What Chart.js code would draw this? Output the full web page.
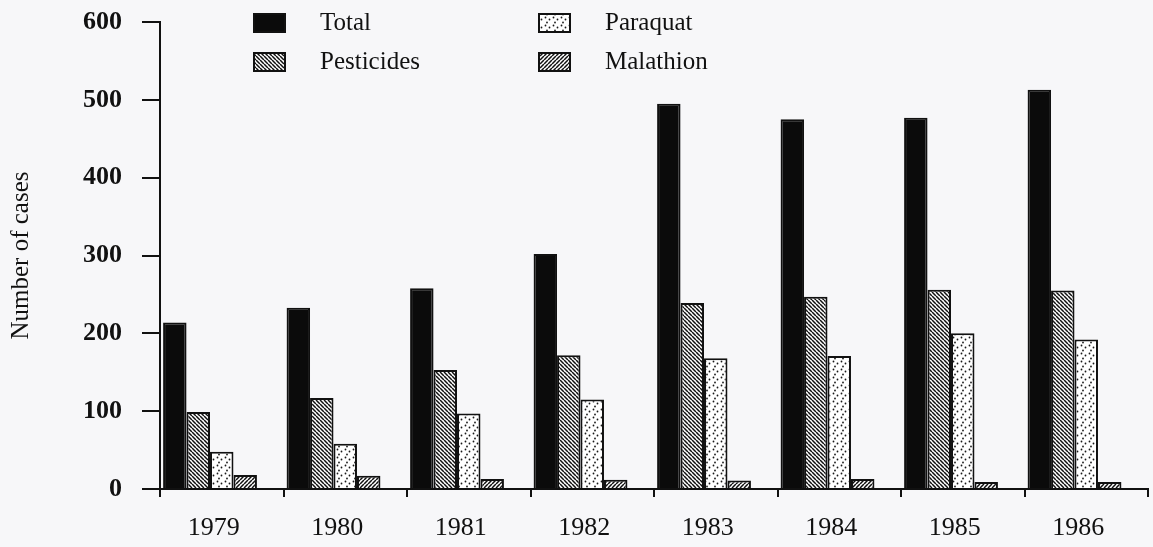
<!DOCTYPE html>
<html>
<head>
<meta charset="utf-8">
<title>Number of cases, 1979-1986</title>
<script src="https://cdn.jsdelivr.net/npm/chart.js@4.4.1/dist/chart.umd.min.js"></script>
<style>
    html, body { margin: 0; padding: 0; background: #f7f7f9; }
    #wrap { width: 1153px; height: 547px; }
</style>
</head>
<body>
<div id="wrap"><canvas id="myChart" width="1153" height="547"></canvas></div>
<script>
// data
var years = ['1979', '1980', '1981', '1982', '1983', '1984', '1985', '1986'];
var total = [214, 233, 258, 302, 495, 475, 477, 513];
var pesticides = [99, 117, 153, 172, 239, 247, 256, 255];
var paraquat = [48, 58, 97, 115, 168, 171, 200, 192];
var malathion = [18, 17, 13, 12, 11, 13, 9, 9];
var yTicks = [0, 100, 200, 300, 400, 500, 600];

var serif = "'Liberation Serif', 'DejaVu Serif', serif";

// fill patterns like the printed figure
function makePattern(kind) {
    var s = kind === 'dots' ? 8 : 4;
    var c = document.createElement('canvas');
    c.width = s;
    c.height = s;
    var g = c.getContext('2d');
    g.fillStyle = '#ffffff';
    g.fillRect(0, 0, s, s);
    g.strokeStyle = '#111111';
    g.fillStyle = '#1a1a1a';
    g.lineWidth = 1.5;
    if (kind === 'back' || kind === 'fwd') {
        g.beginPath();
        for (var x0 = -s; x0 <= s; x0 += s) {
            if (kind === 'back') {
                g.moveTo(x0, 0);
                g.lineTo(x0 + s, s);
            } else {
                g.moveTo(x0, s);
                g.lineTo(x0 + s, 0);
            }
        }
        g.stroke();
    } else {
        [[1.5, 1.5], [5.5, 3.5], [3, 6.5]].forEach(function (p) {
            g.beginPath();
            g.arc(p[0], p[1], 0.9, 0, Math.PI * 2);
            g.fill();
        });
    }
    var ctx = document.getElementById('myChart').getContext('2d');
    return ctx.createPattern(c, 'repeat');
}

var fills = ['#0b0b0b', makePattern('back'), makePattern('dots'), makePattern('fwd')];

// 2 x 2 legend at the top, column by column
var gridLegend = {
    id: 'gridLegend',
    afterDraw: function (chart) {
        var ctx = chart.ctx;
        var cols = [253, 538];
        var rows = [13, 52];
        var n = 0;
        chart.data.datasets.forEach(function (ds) {
            if (!ds.label) return;
            var bx = cols[Math.floor(n / 2)];
            var by = rows[n % 2];
            n++;
            ctx.save();
            ctx.fillStyle = ds.backgroundColor;
            ctx.fillRect(bx, by, 33, 20);
            ctx.strokeStyle = '#111';
            ctx.lineWidth = 2;
            ctx.strokeRect(bx + 1, by + 1, 31, 18);
            ctx.fillStyle = '#111';
            ctx.font = '25px ' + serif;
            ctx.textBaseline = 'middle';
            ctx.fillText(ds.label, bx + 67, by + 10);
            ctx.restore();
        });
    }
};

function bars(label, values, fill) {
    return {
        label: label,
        data: values,
        backgroundColor: fill,
        borderColor: '#111111',
        borderWidth: 2,
        barPercentage: 1,
        categoryPercentage: 0.95
    };
}

var ctx = document.getElementById('myChart').getContext('2d');
var myChart = new Chart(ctx, {
    type: 'bar',
    data: {
        labels: years,
        datasets: [
            bars('Total', total, fills[0]),
            bars('Pesticides', pesticides, fills[1]),
            bars('Paraquat', paraquat, fills[2]),
            bars('Malathion', malathion, fills[3]),
            // empty slot so each group sits left of its category centre
            bars('', [], 'rgba(0,0,0,0)')
        ]
    },
    plugins: [gridLegend],
    options: {
        responsive: false,
        devicePixelRatio: 1,
        animation: false,
        layout: { padding: { top: 22, right: 5, bottom: 0, left: 0 } },
        plugins: {
            legend: { display: false },
            tooltip: { enabled: false }
        },
        scales: {
            x: {
                offset: true,
                grid: {
                    offset: true,
                    drawOnChartArea: false,
                    color: '#111',
                    lineWidth: 2,
                    tickLength: 8
                },
                border: { color: '#111', width: 2 },
                ticks: {
                    color: '#111',
                    font: { family: serif, size: 26 },
                    padding: 16,
                    labelOffset: -8,
                    maxRotation: 0
                },
                afterFit: function (s) { s.height = 58; }
            },
            y: {
                min: 0,
                max: 600,
                afterBuildTicks: function (s) {
                    s.ticks = yTicks.map(function (v) { return { value: v }; });
                },
                grid: {
                    drawOnChartArea: false,
                    color: '#111',
                    lineWidth: 2,
                    tickLength: 18
                },
                border: { color: '#111', width: 2 },
                ticks: {
                    color: '#111',
                    font: { family: serif, size: 26, weight: 'bold' },
                    padding: 20
                },
                title: {
                    display: true,
                    text: 'Number of cases',
                    color: '#111',
                    font: { family: serif, size: 25 },
                    padding: { top: 6, bottom: 0 }
                },
                afterFit: function (s) {
                    s.width = 160;
                    // keep the 600 line at the top padding
                    s.paddingTop = 0;
                    s.paddingBottom = 0;
                }
            }
        }
    }
});
</script>
</body>
</html>
